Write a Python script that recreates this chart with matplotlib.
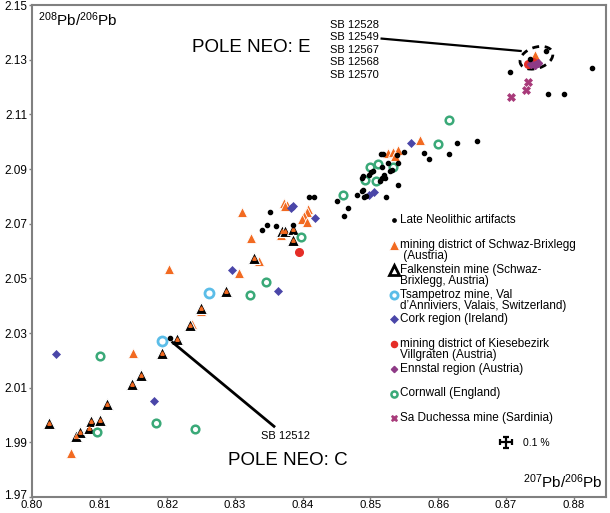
import matplotlib
matplotlib.use("Agg")
import matplotlib.pyplot as plt
import matplotlib.patches as mpatches
import matplotlib.transforms as mtransforms

plt.rcParams["font.family"] = ["Liberation Sans", "DejaVu Sans"]
plt.rcParams["mathtext.fontset"] = "custom"
plt.rcParams["mathtext.rm"] = "Liberation Sans"
plt.rcParams["mathtext.it"] = "Liberation Sans:italic"

# Late Neolithic artifacts (207Pb/206Pb, 208Pb/206Pb)
neo_x = [0.8828, 0.87065, 0.87626, 0.87854, 0.87592, 0.87356, 0.86569, 0.86282,
         0.86164, 0.85790, 0.85864, 0.85495, 0.85406, 0.85224, 0.85155, 0.85185,
         0.85396, 0.85254, 0.85406, 0.85174, 0.85288, 0.85313, 0.85204, 0.85214,
         0.85170, 0.85140, 0.85033, 0.85003, 0.84978, 0.84894, 0.84874, 0.84870,
         0.84894, 0.84904, 0.84934, 0.84796, 0.84672, 0.84613, 0.84510, 0.84092,
         0.84170, 0.83511, 0.83476, 0.83604, 0.83402, 0.83860, 0.82043]
neo_y = [2.1269, 2.12565, 2.11735, 2.11746, 2.13318, 2.13015, 2.10042, 2.09943,
         2.09541, 2.09603, 2.09384, 2.09640, 2.08408, 2.07980, 2.09541, 2.09541,
         2.09530, 2.09212, 2.09212, 2.09077, 2.08931, 2.08956, 2.08773, 2.08689,
         2.08675, 2.08543, 2.08945, 2.08883, 2.08784, 2.08726, 2.08653, 2.08199,
         2.08236, 2.07958, 2.07995, 2.08042, 2.07578, 2.07293, 2.07841, 2.07980,
         2.07969, 2.07420, 2.06945, 2.06920, 2.06751, 2.06956, 2.02803]

# mining district of Schwaz-Brixlegg
schwaz_x = [0.82028, 0.83062, 0.81487, 0.80572, 0.83349, 0.82496, 0.82363, 0.83106,
            0.83238, 0.83727, 0.83771, 0.83741, 0.84081, 0.84058, 0.84018, 0.83984,
            0.84069, 0.83675, 0.85731, 0.85266, 0.85328, 0.85402, 0.85362, 0.87430]
schwaz_y = [2.05325, 2.05179, 2.02254, 1.98609, 2.05629, 2.03801, 2.03318, 2.07431,
            2.06459, 2.07739, 2.07687, 2.07640, 2.07530, 2.07410, 2.07263, 2.07165,
            2.07055, 2.06569, 2.10046, 2.09570, 2.09640, 2.09706, 2.09468, 2.13161]

# Falkenstein mine
falk_x = [0.80251, 0.80650, 0.80709, 0.80849, 0.80867, 0.81004, 0.81115, 0.81480,
          0.81613, 0.81923, 0.82145, 0.82338, 0.82493, 0.82866, 0.83284, 0.83700,
          0.83744, 0.83860, 0.83860]
falk_y = [1.99706, 1.99219, 1.99377, 1.99523, 1.99790, 1.99808, 2.00411, 2.01121,
          2.01472, 2.02258, 2.02795, 2.03307, 2.03910, 2.04532, 2.05750, 2.06726,
          2.06733, 2.06806, 2.06408]

# Tsampetroz mine
tsam_x = [0.81920, 0.82610]
tsam_y = [2.02693, 2.04459]

# Cork region
cork_x = [0.80350, 0.81798, 0.82954, 0.83638, 0.83826, 0.83855, 0.84188, 0.85601,
          0.84978, 0.85055]
cork_y = [2.02240, 2.00521, 2.05318, 2.04543, 2.07556, 2.07651, 2.07212, 2.09951,
          2.08053, 2.08159]

# Kiesebezirk Villgraten
kies_x = [0.83944, 0.87331, 0.87408]
kies_y = [2.05969, 2.12857, 2.12912]

# Ennstal region
enns_x = [0.87371, 0.87430, 0.87474]
enns_y = [2.12832, 2.12821, 2.12868]

# Cornwall
corn_x = [0.80965, 0.81004, 0.81827, 0.82412, 0.83225, 0.83456, 0.83973, 0.84594,
          0.86164, 0.85997, 0.85000, 0.85108, 0.85335, 0.84923, 0.85078]
corn_y = [1.99377, 2.02155, 1.99695, 1.99486, 2.04386, 2.04850, 2.06506, 2.08060,
          2.10777, 2.09918, 2.09073, 2.09176, 2.09055, 2.08583, 2.08572]

# Sa Duchessa mine
sadu_x = [0.87322, 0.87292, 0.87083]
sadu_y = [2.12185, 2.11881, 2.11651]

sb_e_labels = ["SB 12528", "SB 12549", "SB 12567", "SB 12568", "SB 12570"]

ORANGE = "#f26a21"
LBLUE = "#5bbde8"
CORK = "#4a46a8"
RED = "#e52d27"
ENNS = "#8e3a86"
GREEN = "#3aa978"
SADU = "#a83a7a"

styles = {
    "schwaz": dict(marker="^", ms=6.5, mfc=ORANGE, mec="white", mew=0.6, ls="none"),
    "falk": dict(marker="^", ms=9, mfc="black", mec="white", mew=0.8, ls="none"),
    "tsam": dict(marker="o", ms=6.5, mfc="white", mec=LBLUE, mew=2, ls="none"),
    "cork": dict(marker="D", ms=4.5, mfc=CORK, mec=CORK, mew=0.5, ls="none"),
    "kies": dict(marker="o", ms=5.5, mfc=RED, mec=RED, ls="none"),
    "enns": dict(marker="D", ms=4, mfc=ENNS, mec=ENNS, ls="none"),
    "corn": dict(marker="o", ms=5.5, mfc="white", mec=GREEN, mew=1.8, ls="none"),
    "sadu": dict(marker="X", ms=5.5, mfc=SADU, mec=SADU, mew=0.5, ls="none"),
    "neo": dict(marker="o", ms=3, mfc="black", mec="black", ls="none"),
}

fig = plt.figure(figsize=(6.1, 5.13), dpi=100)
ax = fig.add_axes([32 / 610, 16 / 513, 574 / 610, 492 / 513])

ax.plot(schwaz_x, schwaz_y, **styles["schwaz"])
ax.plot(falk_x, falk_y, **styles["falk"])
ax.plot(falk_x, falk_y, marker="^", ms=2.5, color=ORANGE, ls="none")
ax.plot(cork_x, cork_y, **styles["cork"])
ax.plot(corn_x, corn_y, **styles["corn"])
ax.plot(tsam_x, tsam_y, **styles["tsam"])
ax.plot(kies_x, kies_y, **styles["kies"])
ax.plot(enns_x, enns_y, **styles["enns"])
ax.plot(sadu_x, sadu_y, **styles["sadu"])
ax.plot(neo_x, neo_y, **styles["neo"])

ax.set_xlim(0.80, 0.8848)
ax.set_ylim(1.97, 2.15)
ax.set_xticks([0.80 + 0.01 * i for i in range(9)])
ax.set_yticks([1.97 + 0.02 * i for i in range(10)])
ax.set_xticklabels([f"{0.80 + 0.01 * i:.2f}" for i in range(9)])
ax.set_yticklabels([f"{1.97 + 0.02 * i:.2f}" for i in range(10)])
ax.tick_params(direction="out", length=2.5, width=1, color="#808080",
               labelsize=8.5, pad=1)
ax.tick_params(axis="x", length=2, pad=0, labelsize=8.2)
for sp in ax.spines.values():
    sp.set_color("#808080")
    sp.set_linewidth(1.5)

# nudge the bottom y label up so it clears the first x label
lab0 = ax.get_yticklabels()[0]
lab0.set_transform(lab0.get_transform()
                   + mtransforms.ScaledTranslation(0, 3 / 100, fig.dpi_scale_trans))

# error cross
ax.errorbar([0.87], [1.99], xerr=[0.00087], yerr=[0.00199], fmt="none",
            ecolor="black", elinewidth=1.6, capsize=2.5, capthick=1.6)
ax.text(0.8549, 0.1101, "0.1 %", transform=ax.transAxes, fontsize=7.5,
        va="center", ha="left")

# pole E ellipse and annotations
trans = fig.dpi_scale_trans + mtransforms.ScaledTranslation(0.87452, 2.13069, ax.transData)
ax.add_patch(mpatches.Ellipse((0, 0), 0.34, 0.21, angle=19, fill=False,
                              edgecolor="black", lw=2, ls=(0, (2.5, 2)),
                              transform=trans))
ax.plot([0.85165, 0.87219], [2.13771, 2.13318], color="black", lw=1.6)
ax.plot([0.82078, 0.83575], [2.02656, 1.99585], color="black", lw=2)

ax.text(0.2787, 0.9142, "POLE NEO: E", transform=ax.transAxes, fontsize=13.5,
        va="center", ha="left")
ax.text(0.3415, 0.0740, "POLE NEO: C", transform=ax.transAxes, fontsize=13.5,
        va="center", ha="left")
ax.text(0.5192, 0.9580 + 0.0125, "\n".join(sb_e_labels), transform=ax.transAxes,
        fontsize=8, va="top", ha="left", linespacing=1.32)
ax.text(0.399, 0.1237, "SB 12512", transform=ax.transAxes, fontsize=8,
        va="center", ha="left")

ax.text(0.0099, 0.971, r"$^{208}\mathrm{Pb/}^{206}\mathrm{Pb}$",
        transform=ax.transAxes, fontsize=11, va="center", ha="left")
ax.text(0.9948, 0.0304, r"$^{207}\mathrm{Pb/}^{206}\mathrm{Pb}$",
        transform=ax.transAxes, fontsize=11, va="center", ha="right")

# hand-built legend
legend_items = [
    ("neo", ["Late Neolithic artifacts"], 0.5633),
    ("schwaz", ["mining district of Schwaz-Brixlegg", " (Austria)"], 0.5118),
    ("falk", ["Falkenstein mine (Schwaz-", "Brixlegg, Austria)"], 0.4611),
    ("tsam", ["Tsampetroz mine, Val", "d\u2019Anniviers, Valais, Switzerland)"], 0.4112),
    ("cork", ["Cork region (Ireland)"], 0.3611),
    ("kies", ["mining district of Kiesebezirk", "Villgraten (Austria)"], 0.3103),
    ("enns", ["Ennstal region (Austria)"], 0.2596),
    ("corn", ["Cornwall (England)"], 0.2103),
    ("sadu", ["Sa Duchessa mine (Sardinia)"], 0.1596),
]
for key, lines, yy in legend_items:
    st = dict(styles[key])
    if key in ("neo", "kies", "enns", "corn", "sadu", "cork", "tsam"):
        st["ms"] = st["ms"] * 0.8
    if key == "falk":
        st = dict(marker="^", ms=6.5, mfc="white", mec="black", mew=2, ls="none")
    ax.plot([0.6307], [yy], transform=ax.transAxes, clip_on=False, **st)
    ax.text(0.6411, yy + 0.0125, "\n".join(lines), transform=ax.transAxes,
            fontsize=8.5, va="top", ha="left", linespacing=0.92)

fig.savefig("out.png", dpi=100)
